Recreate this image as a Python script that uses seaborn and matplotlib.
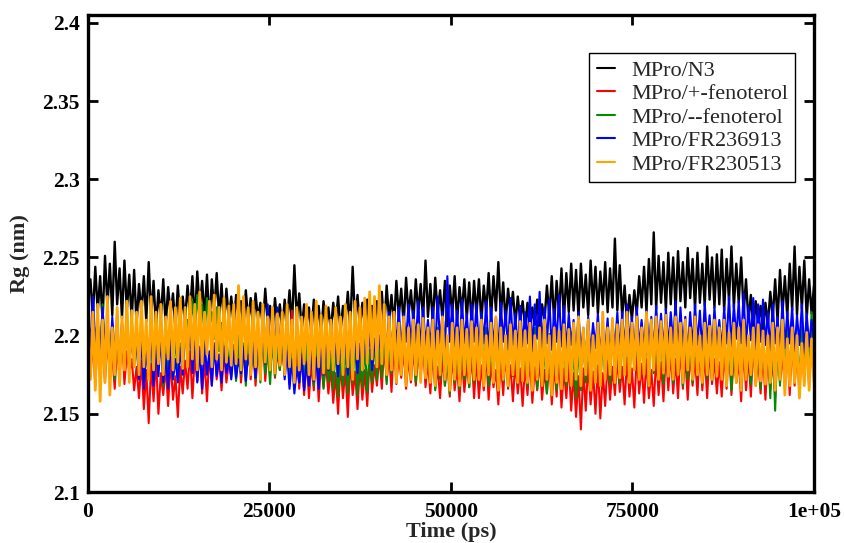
import numpy as np
import pandas as pd
import matplotlib
matplotlib.use("Agg")
import matplotlib.pyplot as plt
from matplotlib.lines import Line2D
import seaborn as sns

series_names = ["MPro/N3", "MPro/+-fenoterol", "MPro/--fenoterol", "MPro/FR236913", "MPro/FR230513"]
series_colors = ["#000000", "#FF0000", "#008B00", "#0000FF", "#FFA500"]

x_ticks = [0, 25000, 50000, 75000, 100000]
x_tick_labels = ["0", "25000", "50000", "75000", "1e+05"]
y_ticks = [2.1, 2.15, 2.2, 2.25, 2.3, 2.35, 2.4]
y_tick_labels = ["2.1", "2.15", "2.2", "2.25", "2.3", "2.35", "2.4"]

rg_n3 = [
    2.222, 2.236, 2.212, 2.244, 2.215, 2.238, 2.209, 2.251, 2.218, 2.246, 2.213, 2.26, 2.22, 2.243, 2.211, 2.248, 2.216, 2.239, 2.21, 2.242,
    2.207, 2.233, 2.214, 2.238, 2.209, 2.247, 2.212, 2.235, 2.205, 2.229, 2.211, 2.236, 2.206, 2.231, 2.213, 2.227, 2.204, 2.232, 2.209, 2.225,
    2.21, 2.232, 2.214, 2.238, 2.208, 2.241, 2.216, 2.235, 2.211, 2.239, 2.207, 2.236, 2.215, 2.24, 2.212, 2.233, 2.206, 2.23, 2.21, 2.225,
    2.206, 2.226, 2.212, 2.222, 2.204, 2.229, 2.209, 2.224, 2.203, 2.227, 2.211, 2.221, 2.205, 2.23, 2.208, 2.219, 2.202, 2.224, 2.207, 2.22,
    2.204, 2.223, 2.208, 2.229, 2.206, 2.245, 2.21, 2.227, 2.203, 2.22, 2.207, 2.218, 2.201, 2.223, 2.206, 2.219, 2.2, 2.222, 2.205, 2.218,
    2.203, 2.221, 2.207, 2.225, 2.202, 2.219, 2.208, 2.228, 2.205, 2.244, 2.209, 2.226, 2.204, 2.221, 2.207, 2.223, 2.201, 2.219, 2.206, 2.222,
    2.208, 2.228, 2.204, 2.232, 2.21, 2.226, 2.206, 2.235, 2.212, 2.23, 2.207, 2.237, 2.213, 2.229, 2.209, 2.236, 2.214, 2.233, 2.21, 2.248,
    2.212, 2.233, 2.208, 2.237, 2.214, 2.229, 2.21, 2.235, 2.206, 2.232, 2.213, 2.238, 2.209, 2.231, 2.215, 2.236, 2.211, 2.234, 2.207, 2.235,
    2.213, 2.236, 2.209, 2.232, 2.215, 2.24, 2.211, 2.238, 2.216, 2.247, 2.212, 2.234, 2.208, 2.23, 2.214, 2.228, 2.207, 2.225, 2.21, 2.222,
    2.205, 2.221, 2.202, 2.218, 2.207, 2.223, 2.203, 2.22, 2.209, 2.232, 2.212, 2.238, 2.208, 2.235, 2.214, 2.243, 2.21, 2.24, 2.215, 2.246,
    2.216, 2.242, 2.212, 2.246, 2.218, 2.239, 2.213, 2.248, 2.219, 2.244, 2.214, 2.241, 2.22, 2.247, 2.215, 2.243, 2.218, 2.262, 2.216, 2.245,
    2.212, 2.232, 2.208, 2.226, 2.21, 2.229, 2.214, 2.238, 2.218, 2.244, 2.215, 2.249, 2.22, 2.266, 2.217, 2.251, 2.221, 2.247, 2.216, 2.253,
    2.22, 2.25, 2.216, 2.254, 2.222, 2.247, 2.218, 2.256, 2.224, 2.249, 2.217, 2.253, 2.221, 2.246, 2.219, 2.257, 2.223, 2.25, 2.218, 2.252,
    2.22, 2.255, 2.216, 2.249, 2.222, 2.257, 2.218, 2.246, 2.221, 2.25, 2.214, 2.236, 2.209, 2.226, 2.205, 2.222, 2.208, 2.219, 2.203, 2.221,
    2.207, 2.228, 2.211, 2.236, 2.209, 2.242, 2.214, 2.238, 2.212, 2.246, 2.216, 2.257, 2.213, 2.244, 2.217, 2.248, 2.211, 2.236, 2.214, 2.232,
]

rg_plus_fenoterol = [
    2.19, 2.174, 2.196, 2.168, 2.2, 2.178, 2.192, 2.17, 2.198, 2.175, 2.188, 2.166, 2.194, 2.172, 2.202, 2.169, 2.19, 2.176, 2.185, 2.165,
    2.18, 2.16, 2.184, 2.153, 2.178, 2.144, 2.182, 2.158, 2.186, 2.15, 2.176, 2.162, 2.181, 2.155, 2.185, 2.159, 2.174, 2.148, 2.18, 2.163,
    2.184, 2.166, 2.19, 2.16, 2.187, 2.171, 2.193, 2.163, 2.185, 2.158, 2.189, 2.168, 2.195, 2.172, 2.186, 2.165, 2.19, 2.17, 2.183, 2.174,
    2.194, 2.175, 2.2, 2.17, 2.19, 2.177, 2.204, 2.172, 2.196, 2.168, 2.191, 2.178, 2.199, 2.171, 2.193, 2.176, 2.205, 2.173, 2.19, 2.178,
    2.196, 2.174, 2.205, 2.17, 2.216, 2.168, 2.192, 2.166, 2.188, 2.162, 2.186, 2.16, 2.183, 2.165, 2.19, 2.158, 2.184, 2.167, 2.182, 2.163,
    2.18, 2.157, 2.176, 2.15, 2.184, 2.16, 2.179, 2.148, 2.185, 2.162, 2.177, 2.153, 2.182, 2.159, 2.178, 2.155, 2.186, 2.164, 2.181, 2.168,
    2.188, 2.166, 2.194, 2.171, 2.19, 2.164, 2.196, 2.169, 2.187, 2.173, 2.192, 2.166, 2.186, 2.17, 2.193, 2.168, 2.189, 2.173, 2.195, 2.167,
    2.184, 2.163, 2.19, 2.166, 2.18, 2.16, 2.187, 2.168, 2.183, 2.161, 2.189, 2.165, 2.181, 2.158, 2.186, 2.164, 2.182, 2.167, 2.188, 2.16,
    2.186, 2.16, 2.181, 2.165, 2.189, 2.159, 2.183, 2.167, 2.178, 2.156, 2.185, 2.162, 2.19, 2.166, 2.181, 2.158, 2.184, 2.163, 2.179, 2.155,
    2.182, 2.162, 2.187, 2.157, 2.18, 2.165, 2.185, 2.159, 2.178, 2.163, 2.184, 2.156, 2.181, 2.161, 2.186, 2.154, 2.179, 2.16, 2.183, 2.152,
    2.176, 2.148, 2.174, 2.14, 2.179, 2.152, 2.183, 2.156, 2.177, 2.15, 2.181, 2.147, 2.176, 2.155, 2.184, 2.159, 2.18, 2.162, 2.186, 2.164,
    2.18, 2.156, 2.186, 2.161, 2.179, 2.154, 2.188, 2.163, 2.182, 2.157, 2.185, 2.16, 2.178, 2.155, 2.187, 2.162, 2.183, 2.158, 2.19, 2.165,
    2.19, 2.163, 2.185, 2.16, 2.193, 2.166, 2.187, 2.159, 2.191, 2.168, 2.186, 2.162, 2.194, 2.165, 2.188, 2.16, 2.192, 2.169, 2.185, 2.163,
    2.183, 2.161, 2.19, 2.166, 2.195, 2.162, 2.188, 2.17, 2.184, 2.158, 2.192, 2.165, 2.187, 2.161, 2.194, 2.168, 2.186, 2.163, 2.19, 2.159,
    2.19, 2.165, 2.186, 2.161, 2.195, 2.17, 2.188, 2.166, 2.192, 2.162, 2.197, 2.168, 2.189, 2.164, 2.194, 2.171, 2.2, 2.167, 2.21, 2.178,
]

rg_minus_fenoterol = [
    2.205, 2.18, 2.214, 2.173, 2.21, 2.182, 2.22, 2.176, 2.212, 2.184, 2.207, 2.172, 2.216, 2.179, 2.209, 2.185, 2.218, 2.175, 2.211, 2.18,
    2.2, 2.174, 2.207, 2.169, 2.196, 2.176, 2.204, 2.171, 2.199, 2.178, 2.206, 2.168, 2.197, 2.175, 2.203, 2.172, 2.2, 2.177, 2.195, 2.18,
    2.198, 2.21, 2.205, 2.222, 2.203, 2.226, 2.208, 2.22, 2.2, 2.224, 2.206, 2.215, 2.198, 2.218, 2.19, 2.208, 2.185, 2.2, 2.18, 2.195,
    2.19, 2.171, 2.2, 2.175, 2.195, 2.168, 2.202, 2.177, 2.193, 2.172, 2.198, 2.17, 2.204, 2.176, 2.192, 2.169, 2.199, 2.174, 2.195, 2.178,
    2.198, 2.175, 2.205, 2.169, 2.2, 2.173, 2.21, 2.17, 2.193, 2.166, 2.198, 2.171, 2.204, 2.168, 2.196, 2.172, 2.2, 2.166, 2.194, 2.17,
    2.19, 2.166, 2.196, 2.161, 2.188, 2.168, 2.194, 2.163, 2.19, 2.17, 2.197, 2.162, 2.189, 2.167, 2.195, 2.164, 2.191, 2.17, 2.198, 2.172,
    2.2, 2.173, 2.205, 2.169, 2.198, 2.176, 2.21, 2.171, 2.2, 2.178, 2.206, 2.172, 2.199, 2.175, 2.204, 2.17, 2.198, 2.176, 2.202, 2.173,
    2.195, 2.17, 2.2, 2.165, 2.205, 2.172, 2.198, 2.168, 2.19, 2.163, 2.202, 2.17, 2.196, 2.166, 2.201, 2.172, 2.194, 2.167, 2.2, 2.17,
    2.2, 2.175, 2.212, 2.17, 2.205, 2.168, 2.198, 2.173, 2.203, 2.165, 2.208, 2.171, 2.2, 2.167, 2.205, 2.174, 2.197, 2.169, 2.203, 2.172,
    2.195, 2.168, 2.2, 2.173, 2.205, 2.166, 2.198, 2.171, 2.193, 2.163, 2.201, 2.17, 2.196, 2.165, 2.203, 2.172, 2.197, 2.168, 2.2, 2.17,
    2.19, 2.16, 2.195, 2.165, 2.2, 2.17, 2.205, 2.167, 2.198, 2.172, 2.203, 2.168, 2.196, 2.173, 2.201, 2.169, 2.206, 2.174, 2.199, 2.17,
    2.202, 2.175, 2.21, 2.17, 2.205, 2.178, 2.198, 2.172, 2.208, 2.175, 2.201, 2.17, 2.207, 2.176, 2.2, 2.173, 2.206, 2.169, 2.203, 2.175,
    2.2, 2.17, 2.205, 2.175, 2.21, 2.168, 2.203, 2.172, 2.198, 2.17, 2.206, 2.174, 2.2, 2.169, 2.204, 2.173, 2.199, 2.171, 2.207, 2.175,
    2.205, 2.175, 2.21, 2.17, 2.2, 2.165, 2.195, 2.17, 2.2, 2.168, 2.206, 2.173, 2.198, 2.169, 2.203, 2.171, 2.197, 2.166, 2.202, 2.172,
    2.195, 2.16, 2.2, 2.152, 2.198, 2.168, 2.21, 2.172, 2.205, 2.17, 2.208, 2.174, 2.2, 2.169, 2.206, 2.175, 2.212, 2.172, 2.215, 2.18,
]

rg_fr236913 = [
    2.215, 2.192, 2.225, 2.196, 2.21, 2.186, 2.218, 2.19, 2.205, 2.182, 2.212, 2.188, 2.2, 2.18, 2.208, 2.186, 2.202, 2.184, 2.196, 2.188,
    2.195, 2.172, 2.2, 2.166, 2.19, 2.175, 2.205, 2.168, 2.193, 2.174, 2.2, 2.17, 2.188, 2.166, 2.197, 2.172, 2.185, 2.17, 2.192, 2.175,
    2.215, 2.182, 2.205, 2.176, 2.2, 2.17, 2.192, 2.166, 2.197, 2.175, 2.19, 2.168, 2.195, 2.174, 2.188, 2.17, 2.193, 2.176, 2.186, 2.172,
    2.19, 2.173, 2.185, 2.176, 2.193, 2.171, 2.188, 2.177, 2.196, 2.173, 2.205, 2.178, 2.212, 2.182, 2.22, 2.186, 2.21, 2.19, 2.218, 2.188,
    2.2, 2.172, 2.19, 2.166, 2.185, 2.163, 2.18, 2.17, 2.188, 2.165, 2.183, 2.168, 2.19, 2.171, 2.186, 2.166, 2.195, 2.175, 2.2, 2.178,
    2.21, 2.182, 2.195, 2.174, 2.2, 2.178, 2.205, 2.175, 2.197, 2.18, 2.203, 2.176, 2.195, 2.178, 2.2, 2.182, 2.204, 2.178, 2.198, 2.184,
    2.2, 2.186, 2.208, 2.19, 2.215, 2.188, 2.212, 2.194, 2.218, 2.19, 2.214, 2.196, 2.22, 2.192, 2.216, 2.195, 2.222, 2.19, 2.218, 2.194,
    2.21, 2.192, 2.218, 2.189, 2.225, 2.195, 2.215, 2.19, 2.238, 2.196, 2.22, 2.193, 2.216, 2.189, 2.223, 2.195, 2.214, 2.191, 2.22, 2.196,
    2.22, 2.19, 2.215, 2.195, 2.222, 2.188, 2.218, 2.193, 2.212, 2.19, 2.221, 2.196, 2.216, 2.191, 2.224, 2.194, 2.214, 2.189, 2.219, 2.193,
    2.215, 2.195, 2.225, 2.19, 2.22, 2.198, 2.228, 2.192, 2.218, 2.195, 2.223, 2.191, 2.217, 2.196, 2.226, 2.193, 2.219, 2.19, 2.214, 2.194,
    2.21, 2.186, 2.215, 2.19, 2.205, 2.182, 2.212, 2.188, 2.208, 2.192, 2.214, 2.187, 2.206, 2.19, 2.211, 2.185, 2.209, 2.191, 2.215, 2.189,
    2.215, 2.19, 2.22, 2.195, 2.212, 2.188, 2.218, 2.192, 2.21, 2.19, 2.216, 2.194, 2.212, 2.189, 2.219, 2.193, 2.214, 2.19, 2.217, 2.192,
    2.215, 2.195, 2.222, 2.19, 2.218, 2.193, 2.212, 2.188, 2.215, 2.192, 2.22, 2.194, 2.216, 2.19, 2.221, 2.195, 2.213, 2.189, 2.218, 2.193,
    2.21, 2.19, 2.218, 2.195, 2.225, 2.192, 2.22, 2.198, 2.222, 2.195, 2.227, 2.193, 2.219, 2.197, 2.224, 2.191, 2.22, 2.196, 2.223, 2.194,
    2.215, 2.19, 2.22, 2.195, 2.212, 2.188, 2.222, 2.192, 2.215, 2.195, 2.218, 2.19, 2.213, 2.194, 2.22, 2.189, 2.214, 2.193, 2.21, 2.196,
]

rg_fr230513 = [
    2.2, 2.172, 2.215, 2.165, 2.22, 2.158, 2.21, 2.17, 2.225, 2.162, 2.205, 2.175, 2.218, 2.168, 2.212, 2.178, 2.222, 2.17, 2.216, 2.18,
    2.215, 2.175, 2.222, 2.18, 2.21, 2.172, 2.225, 2.178, 2.215, 2.182, 2.22, 2.175, 2.212, 2.185, 2.222, 2.178, 2.218, 2.183, 2.224, 2.179,
    2.218, 2.18, 2.225, 2.185, 2.22, 2.178, 2.228, 2.182, 2.215, 2.188, 2.222, 2.18, 2.226, 2.185, 2.218, 2.178, 2.224, 2.183, 2.219, 2.181,
    2.22, 2.182, 2.232, 2.178, 2.225, 2.185, 2.218, 2.175, 2.222, 2.18, 2.215, 2.172, 2.22, 2.183, 2.212, 2.178, 2.218, 2.176, 2.214, 2.181,
    2.215, 2.175, 2.22, 2.18, 2.21, 2.17, 2.218, 2.178, 2.212, 2.182, 2.22, 2.175, 2.215, 2.172, 2.222, 2.18, 2.213, 2.176, 2.219, 2.179,
    2.21, 2.178, 2.218, 2.182, 2.212, 2.175, 2.22, 2.18, 2.215, 2.172, 2.222, 2.185, 2.218, 2.178, 2.224, 2.182, 2.228, 2.185, 2.225, 2.18,
    2.232, 2.182, 2.22, 2.175, 2.212, 2.178, 2.215, 2.17, 2.208, 2.175, 2.212, 2.168, 2.205, 2.172, 2.21, 2.175, 2.207, 2.17, 2.211, 2.173,
    2.205, 2.17, 2.21, 2.168, 2.203, 2.175, 2.212, 2.172, 2.2, 2.165, 2.208, 2.172, 2.205, 2.168, 2.21, 2.175, 2.204, 2.17, 2.209, 2.172,
    2.205, 2.172, 2.21, 2.168, 2.2, 2.175, 2.208, 2.17, 2.212, 2.165, 2.205, 2.172, 2.2, 2.168, 2.207, 2.175, 2.203, 2.17, 2.209, 2.171,
    2.203, 2.17, 2.208, 2.165, 2.2, 2.172, 2.205, 2.168, 2.21, 2.172, 2.2, 2.162, 2.205, 2.17, 2.203, 2.166, 2.207, 2.171, 2.204, 2.168,
    2.208, 2.172, 2.212, 2.168, 2.205, 2.175, 2.21, 2.165, 2.2, 2.17, 2.208, 2.168, 2.215, 2.172, 2.205, 2.175, 2.211, 2.17, 2.207, 2.173,
    2.21, 2.175, 2.215, 2.17, 2.208, 2.178, 2.212, 2.172, 2.205, 2.175, 2.215, 2.168, 2.21, 2.178, 2.212, 2.172, 2.209, 2.176, 2.213, 2.174,
    2.205, 2.172, 2.212, 2.175, 2.208, 2.17, 2.21, 2.178, 2.205, 2.172, 2.212, 2.175, 2.2, 2.17, 2.208, 2.175, 2.206, 2.172, 2.21, 2.174,
    2.205, 2.172, 2.21, 2.168, 2.202, 2.175, 2.208, 2.17, 2.205, 2.165, 2.21, 2.172, 2.2, 2.175, 2.205, 2.168, 2.207, 2.171, 2.203, 2.169,
    2.2, 2.17, 2.208, 2.165, 2.205, 2.172, 2.21, 2.162, 2.198, 2.168, 2.205, 2.17, 2.2, 2.16, 2.195, 2.168, 2.202, 2.165, 2.198, 2.17,
]

all_series = [rg_n3, rg_plus_fenoterol, rg_minus_fenoterol, rg_fr236913, rg_fr230513]
line_widths = [1.7, 1.5, 1.5, 1.5, 2.0]

frames = []
for name, vals in zip(series_names, all_series):
    t = np.linspace(0, 100000, len(vals))
    frames.append(pd.DataFrame({"Time (ps)": t, "Rg": vals, "System": name}))
df = pd.concat(frames, ignore_index=True)

sns.set_style("ticks")
plt.rcParams["font.family"] = ["Liberation Serif", "DejaVu Serif"]

fig = plt.figure(figsize=(8.45, 5.43), dpi=100)
ax = fig.add_axes([88 / 845, (543 - 492) / 543, 726 / 845, 477 / 543])

sns.lineplot(data=df, x="Time (ps)", y="Rg", hue="System", hue_order=series_names,
             palette=dict(zip(series_names, series_colors)), estimator=None, sort=False,
             linewidth=1.5, ax=ax, legend=False)
for ln, lw in zip(ax.lines, line_widths):
    ln.set_linewidth(lw)

ax.set_xlim(0, 100000)
ax.set_ylim(2.1, 2.405)
ax.set_xticks(x_ticks)
ax.set_xticklabels(x_tick_labels)
ax.set_yticks(y_ticks)
ax.set_yticklabels(y_tick_labels)

for lbl in ax.get_xticklabels() + ax.get_yticklabels():
    lbl.set_fontweight("bold")
    lbl.set_fontsize(15.5)

ax.tick_params(axis="both", direction="in", length=7, width=2, top=True, right=True,
               colors="black")
ax.tick_params(axis="y", pad=6)
ax.tick_params(axis="x", pad=7)

for sp in ax.spines.values():
    sp.set_linewidth(2.4)
    sp.set_color("black")
    sp.set_visible(True)

ax.set_xlabel("Time (ps)", fontsize=16, fontweight="bold")
ax.set_ylabel("Rg (nm)", fontsize=16, fontweight="bold")
ax.xaxis.set_label_coords(0.5, -0.062)
ax.yaxis.set_label_coords(-0.080, 0.5)

handles = [Line2D([0], [0], color=c, lw=1.5) for c in series_colors]
leg = ax.legend(handles, series_names, loc="upper right", bbox_to_anchor=(0.974, 0.920),
                borderaxespad=0, fancybox=False, frameon=True, fontsize=16,
                handlelength=0.85, handletextpad=0.7, labelspacing=0.13,
                borderpad=0.32)
leg.get_frame().set_edgecolor("black")
leg.get_frame().set_linewidth(1.0)
leg.get_frame().set_alpha(1)

fig.savefig("out.png", dpi=100)
